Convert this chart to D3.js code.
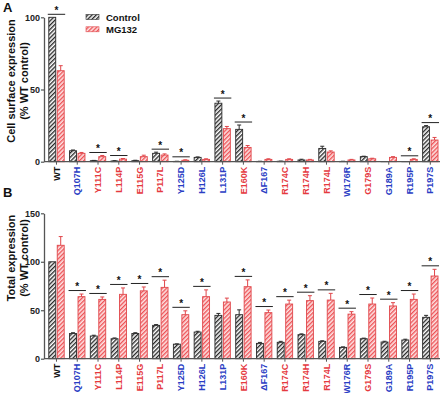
<!DOCTYPE html>
<html><head><meta charset="utf-8">
<script src="https://cdn.jsdelivr.net/npm/d3@7"></script>
<style>body{margin:0;background:#fff}svg{display:block;font-family:"Liberation Sans",Arial,sans-serif}</style>
</head><body><svg id="c" width="440" height="393"></svg>
<script>
const categories = ["WT","Q107H","Y111C","L114P","E115G","P117L","Y125D","H126L","L131P","E160K","\u0394F167","R174C","R174H","R174L","W176R","G179S","G189A","R195P","P197S"];
const labelType  = ["wt","b","r","r","r","r","b","b","b","r","b","r","r","r","b","r","b","b","b"];
const series = ["Control","MG132"];

// Panel A: cell surface expression (% WT control)
const surfaceControl    = [100,7.6,0.7,0.5,0.7,5.8,0.2,3.0,40.5,22.4,0.2,0.3,1.2,9.2,0.2,3.5,0.1,0.1,24.2];
const surfaceControlErr = [0,0.5,0.2,0.2,0.3,0.8,0.1,0.3,1.5,3.0,0.1,0.1,0.5,1.5,0.1,0.3,0,0,0.8];
const surfaceMG132      = [63,5.8,3.5,1.8,3.5,4.6,1.0,1.6,22.9,9.9,1.6,1.6,1.2,6.7,1.2,2.0,3.0,1.6,15];
const surfaceMG132Err   = [3.5,0.6,0.8,0.4,1.0,0.8,0.3,0.4,1.5,1.3,0.4,0.4,0.4,0.8,0.4,0.4,0.5,0.4,1.8];
const surfaceSig        = [1,0,1,1,0,1,1,0,1,1,0,0,0,0,0,0,0,1,1];
const surfaceTicks = [0,50,100];

// Panel B: total expression (% WT control)
const totalControl    = [100,26,23.4,20.6,26,34.4,15,27.5,44.7,45.4,15.8,16.9,24.8,17.9,11.7,20.6,17.2,19.3,42.7];
const totalControlErr = [0,0.8,0.8,0.8,0.8,0.8,0.3,0.8,2,5,1,1,0.8,0.6,0.5,0.6,0.8,0.8,2];
const totalMG132      = [117,64,61.2,66.4,70,73.6,45.4,64,58.5,74.3,47.5,56.4,59.9,60.5,46,56.4,54.4,61.2,85.3];
const totalMG132Err   = [9,2.7,2.5,6.6,4,7.4,4,7,4,7,2.7,4,5.1,6.9,2.5,6.2,3.4,5.5,6.9];
const totalSig        = [0,1,1,1,1,1,1,1,0,1,1,1,1,1,1,1,1,1,1];
const totalTicks = [0,50,100,150];

const labelColor = {wt:"#111", b:"#2a3dc4", r:"#e53a3f"};
const barStyle = {
  Control:{bg:"#ffffff", line:"#1e1e1e", stroke:"#2b2b2b", err:"#2b2b2b"},
  MG132:{bg:"#fde4e4", line:"#ee4c50", stroke:"#e0474b", err:"#e0474b"}
};

const svg = d3.select("#c");
const defs = svg.append("defs");
series.forEach(s => {
  const p = defs.append("pattern").attr("id","h"+s).attr("patternUnits","userSpaceOnUse")
    .attr("width",3).attr("height",3).attr("patternTransform","rotate(45)");
  p.append("rect").attr("width",3).attr("height",3).attr("fill",barStyle[s].bg);
  p.append("line").attr("x1",0.7).attr("x2",0.7).attr("y1",0).attr("y2",3)
    .attr("stroke",barStyle[s].line).attr("stroke-width",1.3);
});

const x = d3.scaleBand().domain(categories).range([46.1, 440.7]);
const groupW = 15.4;
const xi = d3.scaleBand().domain(series).range([0, groupW]).paddingInner(0.18);
const gx = c => x(c) + (x.bandwidth() - groupW) / 2;

function panel(cfg) {
  const y = d3.scaleLinear().domain(cfg.domain).range(cfg.range);
  const g = svg.append("g");
  const data = categories.map((c,i) => ({c, i,
    vals: [{s:"Control", v:cfg.ctrl[i], e:cfg.ctrlErr[i]}, {s:"MG132", v:cfg.mg[i], e:cfg.mgErr[i]}],
    sig: cfg.sig[i]}));

  const grp = g.selectAll("g.grp").data(data).join("g").attr("class","grp")
    .attr("transform", d => `translate(${gx(d.c)},0)`);
  grp.selectAll("rect").data(d => d.vals).join("rect")
    .attr("x", d => xi(d.s)).attr("width", xi.bandwidth())
    .attr("y", d => y(d.v)).attr("height", d => Math.max(0, y(0) - y(d.v)))
    .attr("fill", d => `url(#h${d.s})`).attr("stroke", d => barStyle[d.s].stroke).attr("stroke-width",0.9);
  const eb = grp.selectAll("g.eb").data(d => d.vals.filter(v => v.e > 0)).join("g").attr("class","eb")
    .attr("stroke", d => barStyle[d.s].err).attr("stroke-width",1);
  eb.append("line").attr("x1", d => xi(d.s) + xi.bandwidth()/2).attr("x2", d => xi(d.s) + xi.bandwidth()/2)
    .attr("y1", d => y(d.v)).attr("y2", d => y(d.v + d.e));
  eb.append("line").attr("x1", d => xi(d.s) + xi.bandwidth()/2 - 2).attr("x2", d => xi(d.s) + xi.bandwidth()/2 + 2)
    .attr("y1", d => y(d.v + d.e)).attr("y2", d => y(d.v + d.e));

  const sg = grp.filter(d => d.sig);
  const topY = d => y(d3.max(d.vals, v => v.v + v.e)) - cfg.sigGap;
  sg.append("line").attr("x1", -1).attr("x2", groupW + 1).attr("y1", topY).attr("y2", topY)
    .attr("stroke","#222").attr("stroke-width",1);
  sg.append("text").attr("x", groupW/2).attr("y", d => topY(d) - 0.5).attr("text-anchor","middle")
    .attr("font-size",10).attr("font-weight","bold").attr("fill","#111").text("*");

  const ya = g.append("g").attr("transform","translate(44,0)")
    .call(d3.axisLeft(y).tickValues(cfg.ticks).tickSize(3).tickSizeOuter(0).tickPadding(1));
  ya.select(".domain").attr("stroke","#555").attr("stroke-width",1.3);
  ya.selectAll(".tick line").attr("stroke","#555").attr("stroke-width",1.2);
  ya.selectAll("text").attr("font-size",9).attr("font-weight","bold").attr("fill","#222").attr("font-family",null);

  const xa = g.append("g").attr("transform",`translate(0,${y(0)})`)
    .call(d3.axisBottom(x).tickSize(3).tickSizeOuter(0));
  xa.select(".domain").remove();
  xa.append("line").attr("x1",44).attr("x2",440).attr("stroke","#555").attr("stroke-width",1.3);
  xa.selectAll(".tick line").attr("stroke","#555");
  xa.selectAll("text").attr("transform","rotate(-90)").attr("text-anchor","end")
    .attr("x",-5).attr("y",0).attr("dy","0.35em")
    .attr("font-size",9).attr("font-weight","bold").attr("font-family",null)
    .attr("fill", (d,i) => labelColor[labelType[i]]);

  svg.append("text").attr("x",3).attr("y",cfg.letterY).attr("font-size",13).attr("font-weight","bold")
    .attr("fill","#111").text(cfg.letter);
  cfg.title.forEach((t,k) => {
    svg.append("text").attr("transform",`translate(${[10.5,24][k]},${cfg.titleY}) rotate(-90)`)
      .attr("text-anchor","middle").attr("dominant-baseline","central")
      .attr("font-size",11).attr("font-weight","bold").attr("fill","#111").text(t);
  });
}

panel({domain:[0,100], range:[161.7,17.3], ticks:surfaceTicks,
  ctrl:surfaceControl, ctrlErr:surfaceControlErr, mg:surfaceMG132, mgErr:surfaceMG132Err, sig:surfaceSig,
  sigGap:3, letter:"A", letterY:12, title:["Cell surface expression","(% WT control)"], titleY:81});
panel({domain:[0,150], range:[358.7,213.3], ticks:totalTicks,
  ctrl:totalControl, ctrlErr:totalControlErr, mg:totalMG132, mgErr:totalMG132Err, sig:totalSig,
  sigGap:3.5, letter:"B", letterY:197, title:["Total expression","(% WT control)"], titleY:258});

const lg = svg.append("g");
series.forEach((s,k) => {
  const yy = 17 + k*12.3;
  lg.append("rect").attr("x",86).attr("y",yy-2.5).attr("width",13).attr("height",5)
    .attr("fill",`url(#h${s})`).attr("stroke",barStyle[s].stroke).attr("stroke-width",0.6);
  lg.append("text").attr("x",106).attr("y",yy).attr("dominant-baseline","central")
    .attr("font-size",9.5).attr("font-weight","bold").attr("fill","#111").text(s);
});
</script></body></html>
